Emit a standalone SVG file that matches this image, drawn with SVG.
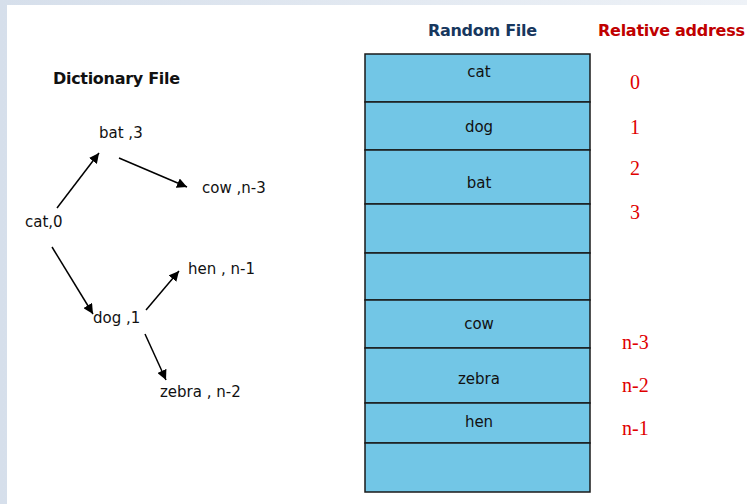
<svg xmlns="http://www.w3.org/2000/svg" width="747" height="504" viewBox="0 0 747 504">
<defs>
<linearGradient id="bg" x1="0" y1="0" x2="1" y2="0">
<stop offset="0" stop-color="#d6dfeb"/>
<stop offset="1" stop-color="#eef2f7"/>
</linearGradient>
<marker id="ah" viewBox="0 0 10 10" refX="10" refY="5" markerWidth="10" markerHeight="10" markerUnits="userSpaceOnUse" orient="auto">
<path d="M0,0 L10,5 L0,10 Z" fill="#000"/>
</marker>
<style>
.lbl{font-family:"DejaVu Sans",Verdana,sans-serif;font-size:15px;fill:#111}
.cell{font-family:"DejaVu Sans",Verdana,sans-serif;font-size:15px;fill:#111;text-anchor:middle}
.addr{font-family:"Liberation Serif","Times New Roman",serif;font-size:20px;fill:#e00000}
.hdr{font-family:"DejaVu Sans",Verdana,sans-serif;font-size:16px;font-weight:bold}
.row{fill:#72c6e6;stroke:#1a1a1a;stroke-width:1.5}
.conn line{stroke:#000;stroke-width:1.5;marker-end:url(#ah)}
</style>
</defs>
<rect width="747" height="504" fill="url(#bg)"/>
<rect x="7" y="5" width="740" height="499" fill="#fff"/>

<text class="hdr" x="428" y="36" fill="#17375e" textLength="109">Random File</text>
<text class="hdr" x="598" y="36" fill="#c00000" textLength="147">Relative address</text>
<text class="hdr" x="53" y="84" fill="#111" textLength="127">Dictionary File</text>

<g id="table">
<rect class="row" x="365" y="54" width="225" height="48"/>
<rect class="row" x="365" y="102" width="225" height="48"/>
<rect class="row" x="365" y="150" width="225" height="54"/>
<rect class="row" x="365" y="204" width="225" height="49"/>
<rect class="row" x="365" y="253" width="225" height="47"/>
<rect class="row" x="365" y="300" width="225" height="48"/>
<rect class="row" x="365" y="348" width="225" height="55"/>
<rect class="row" x="365" y="403" width="225" height="40"/>
<rect class="row" x="365" y="443" width="225" height="49"/>
<text class="cell" x="479" y="77">cat</text>
<text class="cell" x="479" y="132">dog</text>
<text class="cell" x="479" y="188">bat</text>
<text class="cell" x="479" y="329">cow</text>
<text class="cell" x="479" y="384">zebra</text>
<text class="cell" x="479" y="427">hen</text>
</g>

<g id="addresses">
<text class="addr" x="630" y="89">0</text>
<text class="addr" x="630" y="134">1</text>
<text class="addr" x="630" y="175">2</text>
<text class="addr" x="630" y="219">3</text>
<text class="addr" x="622" y="349">n-3</text>
<text class="addr" x="622" y="392">n-2</text>
<text class="addr" x="622" y="435">n-1</text>
</g>

<g id="node-bat"><text class="lbl" x="99" y="138">bat ,3</text></g>
<g id="node-cow"><text class="lbl" x="202" y="193">cow ,n-3</text></g>
<g id="node-cat"><text class="lbl" x="25" y="227">cat,0</text></g>
<g id="node-hen"><text class="lbl" x="188" y="274">hen , n-1</text></g>
<g id="node-dog"><text class="lbl" x="93" y="323">dog ,1</text></g>
<g id="node-zebra"><text class="lbl" x="160" y="397">zebra , n-2</text></g>

<g id="connectors" class="conn">
<line x1="57" y1="208" x2="99" y2="153"/>
<line x1="119" y1="158" x2="187" y2="187"/>
<line x1="52" y1="247" x2="93" y2="314"/>
<line x1="146" y1="310" x2="179" y2="271"/>
<line x1="145" y1="334" x2="166" y2="380"/>
</g>
</svg>
